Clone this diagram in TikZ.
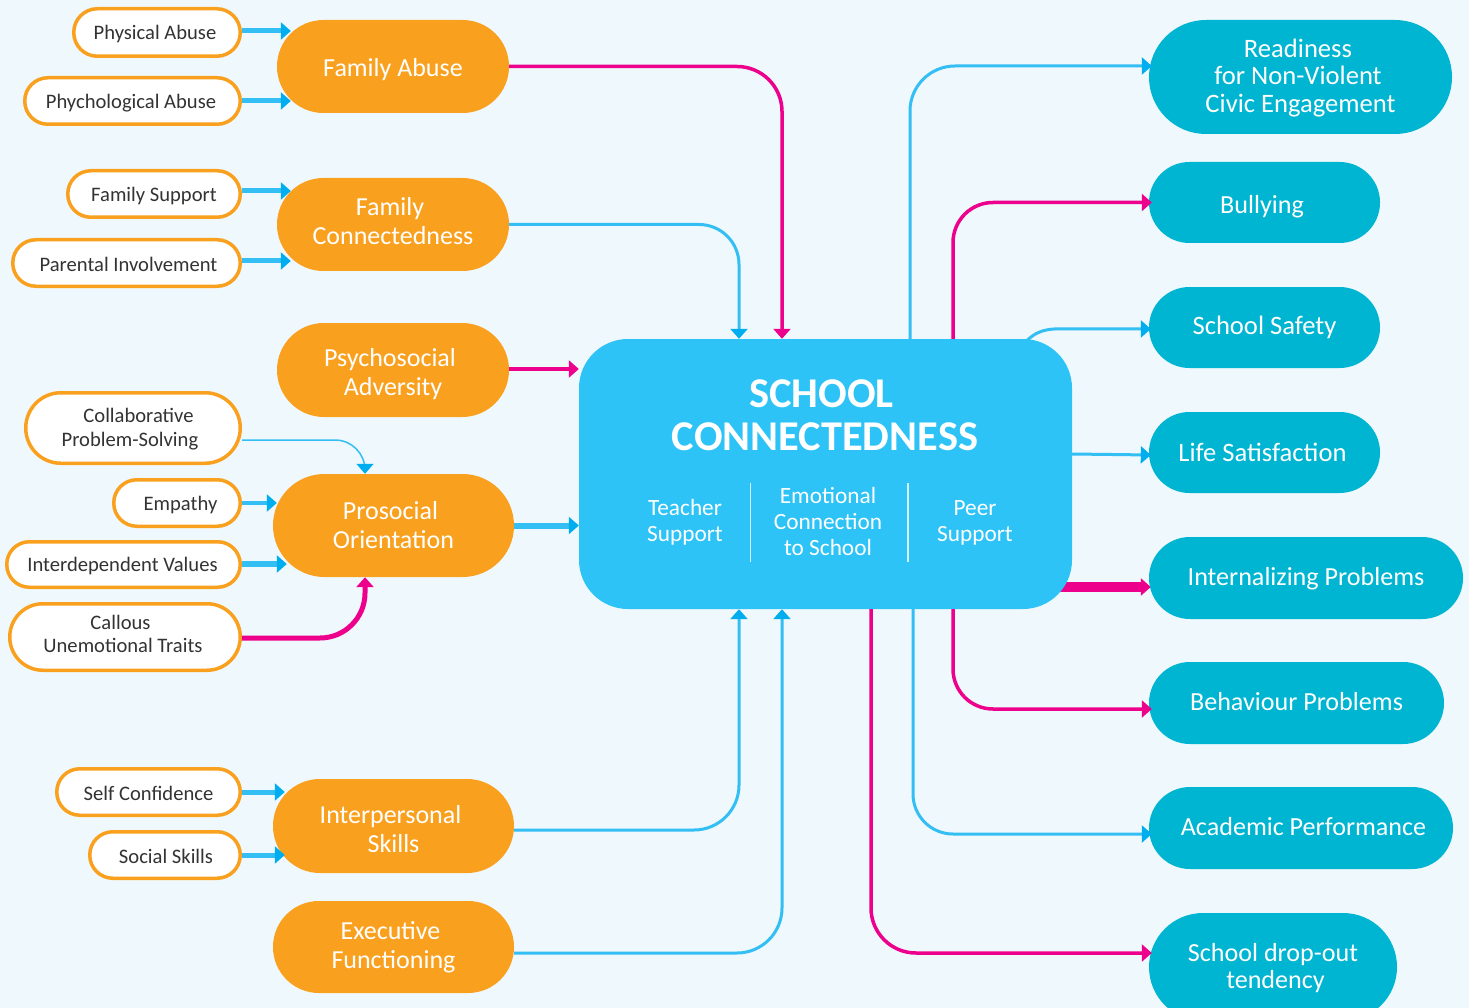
\documentclass[tikz,border=0pt]{standalone}
\usepackage{fontspec}
\setmainfont{Carlito}
\usetikzlibrary{arrows.meta}
\pgfdeclarelayer{bg}
\pgfsetlayers{bg,main}
\definecolor{bgc}{HTML}{EFF8FD}
\definecolor{orangeC}{HTML}{F9A11F}
\definecolor{tealC}{HTML}{00B5D1}
\definecolor{skyC}{HTML}{2DC3F6}
\definecolor{lineB}{HTML}{33BFF3}
\definecolor{headB}{HTML}{00AEEF}
\definecolor{pinkC}{HTML}{EC008C}
\definecolor{inkC}{HTML}{333333}
\tikzset{
  tipb/.style={-{Triangle[length=10pt,width=17pt,color=headB,fill=headB]}},
  tipp/.style={-{Triangle[length=10pt,width=17pt,color=pinkC,fill=pinkC]}},
  blueline/.style={color=lineB,line width=#1,tipb},
  pinkline/.style={color=pinkC,line width=#1,tipp},
  smallpill/.style={draw=orangeC,line width=3.5pt,fill=white,text=inkC,align=center,inner sep=0pt,
    font=\fontsize{20.6}{23.5}\selectfont},
  orangepill/.style={fill=orangeC,text=white,align=center,inner sep=0pt,
    font=\fontsize{26}{29}\selectfont},
  tealpill/.style={fill=tealC,text=white,align=center,inner sep=0pt,
    font=\fontsize{26.1}{27.7}\selectfont},
  tealbig/.style={tealpill,font=\fontsize{26.6}{27.7}\selectfont},
  hub/.style={fill=skyC,inner sep=0pt},
  hubtitle/.style={text=white,align=center,inner sep=0pt,
    font=\fontsize{42.4}{43}\selectfont\bfseries},
  hubsub/.style={text=white,align=center,inner sep=0pt,
    font=\fontsize{23.3}{26}\selectfont},
  divider/.style={color=white!80!skyC,line width=1.2pt},
}
\newcommand\off[1]{\hspace*{#1pt}}
\newcommand\dn[2]{\raisebox{-#1pt}[\height][\depth]{#2}}
\newcommand\pill[7]{%
  \pgfmathsetmacro\pw{#4-#2-2*\ins}%
  \pgfmathsetmacro\ph{#6-#5-2*\ins}%
  \pgfmathsetmacro\pr{min(\pw,\ph)/2-0.1}%
  \pgfmathsetmacro\cx{(#2+#4)/2}%
  \pgfmathsetmacro\cy{(#5+#6)/2}%
  \node[#1,minimum width=\pw pt,minimum height=\ph pt,rounded corners=\pr pt] (#3) at (\cx,\cy) {#7};}
\newcommand\feed[5]{\draw[blueline=#5] ([yshift=#3pt]#1.east) -- ([xshift=#4pt,yshift=#3pt]#1.east -| #2.west);}
\begin{document}
\begin{tikzpicture}[x=1pt,y=-1pt]
\useasboundingbox (0,0) rectangle (1469,1008);
\begin{pgfonlayer}{bg}
\fill[bgc] (0,0) rectangle (1469,1008);
\end{pgfonlayer}
\clip (0,0) rectangle (1469,1008);
\def\ins{0}
% hub
\node[hub,minimum width=493pt,minimum height=270pt,rounded corners=49pt] (hub) at (825.5,474) {};
\node[hubtitle] (title) at (825,415) {\off{-7}SCHOOL\\CONNECTEDNESS};
\node[hubsub] (teacher) at (685,522) {Teacher\\Support};
\node[hubsub] (emotion) at (828,521) {Emotional\\Connection\\to School};
\node[hubsub] (peer) at (975,522.5) {Peer\\Support};
\coordinate (d1a) at (750.5,483); \coordinate (d1b) at (750.5,562);
\coordinate (d2a) at (908,483); \coordinate (d2b) at (908,562);
\draw[divider] (d1a) -- (d1b);
\draw[divider] (d2a) -- (d2b);
% orange
\pill{orangepill}{277}{fam}{509}{20}{113}{\dn{3}{Family Abuse}}
\pill{orangepill}{277}{con}{509}{178}{271}{\off{-6}\dn{-3}{Family}\\\dn{-3}{Connectedness}}
\pill{orangepill}{277}{psy}{509}{323}{417}{\off{-6}\dn{4}{Psychosocial}\\\dn{4}{Adversity}}
\pill{orangepill}{273}{pro}{514}{474}{577}{\off{-6}Prosocial\\Orientation}
\pill{orangepill}{273}{ips}{514}{779}{873}{\off{-6}\dn{3}{Interpersonal}\\\dn{3}{Skills}}
\pill{orangepill}{273}{exe}{514}{901}{993}{\off{-6}Executive\\Functioning}
% teal
\pill{tealbig}{1149}{rea}{1452}{20}{134}{\off{-5}\dn{1}{Readiness}\\\off{-5}\dn{1}{for Non-Violent}\\\dn{1}{Civic Engagement}}
\pill{tealpill}{1149}{bul}{1380}{162}{243}{\off{-5}\dn{4}{Bullying}}
\pill{tealbig}{1149}{saf}{1380}{287}{368}{School Safety}
\pill{tealbig}{1149}{lif}{1380}{412}{493}{\off{-4}Life Satisfaction}
\pill{tealpill}{1149}{inl}{1463}{537}{619}{\dn{1}{Internalizing Problems}}
\pill{tealpill}{1149}{beh}{1444}{662}{744}{\dn{-1}{Behaviour Problems}}
\pill{tealpill}{1149}{aca}{1453}{787}{869}{\off{5}\dn{-1}{Academic Performance}}
\pill{tealpill}{1149}{dro}{1397}{913}{1021}{\dn{1}{School drop-out}\\\off{5}\dn{1}{tendency}}
% white
\def\ins{0.75}
\pill{smallpill}{73}{phy}{241}{8}{57}{\off{-4}\dn{2}{Physical Abuse}}
\pill{smallpill}{24}{pch}{241}{77}{125}{\off{-3}\dn{2}{Phychological Abuse}}
\pill{smallpill}{67}{fsu}{241}{170}{218}{\dn{2}{Family Support}}
\pill{smallpill}{12}{par}{241}{239}{287}{\off{4}\dn{1}{Parental Involvement}}
\pill{smallpill}{25}{col}{241}{392}{464}{\off{11}\dn{1}{Collaborative}\\\off{-6}\dn{1}{Problem-Solving}}
\pill{smallpill}{113}{emp}{241}{479}{527}{\off{7}\dn{2}{Empathy}}
\pill{smallpill}{6}{int}{241}{541}{588}{\off{-2}\dn{2}{Interdependent Values}}
\pill{smallpill}{9}{cal}{241}{603}{671}{\off{-9}\dn{-3}{Callous}\\\off{-4}\dn{-3}{Unemotional Traits}}
\pill{smallpill}{56}{slf}{241}{768}{816}{\dn{1}{Self Confidence}}
\pill{smallpill}{89}{soc}{241}{831}{879}{\off{2}\dn{1}{Social Skills}}
% feeders
\feed{phy}{fam}{1.5}{14}{5pt}
\feed{pch}{fam}{0}{14}{5pt}
\feed{fsu}{con}{3}{14}{5pt}
\feed{par}{con}{2}{14}{5pt}
\feed{emp}{pro}{0}{4}{4.5pt}
\feed{int}{pro}{0.5}{14}{6pt}
\feed{slf}{ips}{0}{12}{5pt}
\feed{soc}{ips}{0}{12}{5pt}
\draw[blueline=1.5pt,rounded corners=30pt] ([yshift=-12pt]col.east) -| ([xshift=-28.5pt]pro.north);
\draw[pinkline=5pt,rounded corners=45pt] ([yshift=-1pt]cal.east) -| ([xshift=-28.5pt]pro.south);
% into hub
\draw[pinkline=3.5pt,rounded corners=45pt] (fam.east) -| ([xshift=-43.5pt]hub.north);
\draw[blueline=3pt,rounded corners=40pt] (con.east) -| ([xshift=-86.5pt]hub.north);
\draw[pinkline=3.5pt] ([yshift=1pt]psy.east) -- ([yshift=1pt]psy.east -| hub.west);
\draw[blueline=6pt] (pro.east) -- (pro.east -| hub.west);
\draw[blueline=3pt,rounded corners=45pt] ([yshift=-4pt]ips.east) -| ([xshift=-86.5pt]hub.south);
\draw[blueline=3pt,rounded corners=45pt] ([yshift=-6pt]exe.east) -| ([xshift=-43.5pt]hub.south);
% out of hub
\draw[blueline=3pt,rounded corners=45pt] ([xshift=84.5pt]hub.north) |- ([xshift=3pt,yshift=11pt]rea.west);
\draw[pinkline=3.5pt,rounded corners=40pt] ([xshift=127.5pt]hub.north) |- ([xshift=3pt]bul.west);
\draw[blueline=3pt] ([yshift=20pt]hub.east) -- ([xshift=2pt,yshift=-2.5pt]lif.west);
\draw[pinkline=3.5pt,rounded corners=40pt] ([xshift=127.5pt]hub.south) |- ([xshift=3pt,yshift=-6pt]beh.west);
\draw[blueline=3pt,rounded corners=40pt] ([xshift=87.5pt]hub.south) |- ([xshift=3pt,yshift=-6pt]aca.west);
\draw[pinkline=3.5pt,rounded corners=45pt] ([xshift=45.5pt]hub.south) |- ([xshift=3pt,yshift=14pt]dro.west);
\begin{pgfonlayer}{bg}
\draw[pinkline=10pt] ([xshift=-20pt,yshift=-113pt]hub.east) -- ([xshift=2pt,yshift=-9pt]inl.west);
\draw[blueline=3pt] ([xshift=198pt,yshift=-5pt]hub.north) .. controls ([xshift=208pt,yshift=5pt]hub.north) and ([xshift=215pt,yshift=10pt]hub.north) .. ([xshift=235pt,yshift=10pt]hub.north) -- ([xshift=2pt,yshift=-1.5pt]saf.west);
\end{pgfonlayer}
\end{tikzpicture}
\end{document}
